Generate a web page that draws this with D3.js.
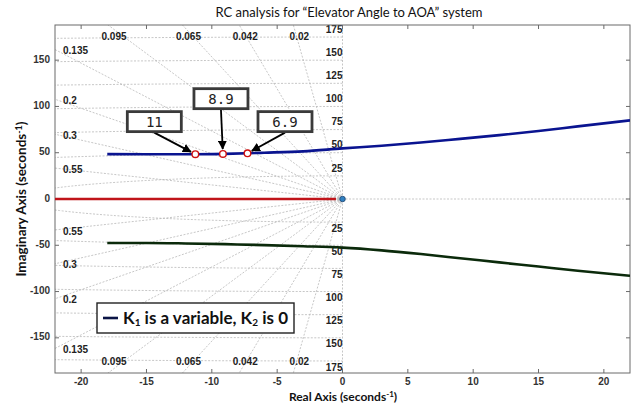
<!DOCTYPE html>
<html>
<head>
<meta charset="utf-8">
<script src="https://cdn.jsdelivr.net/npm/d3@7/dist/d3.min.js"></script>
<style>
  body { margin: 0; background: #fff; }
  svg { display: block; }
</style>
</head>
<body>
<div id="chart"></div>
<script>
// chart values
const xTicks = [-20, -15, -10, -5, 0, 5, 10, 15, 20];
const yTicks = [-150, -100, -50, 0, 50, 100, 150];
const dampingRatios = [0.02, 0.042, 0.065, 0.095, 0.135, 0.2, 0.3, 0.55];
const freqCircles = [25, 50, 75, 100, 125, 150, 175];

const upperX = [-18, -15, -12, -9, -6, -3, 0, 3, 6, 9, 12, 15, 18, 22];
const upperY = [48.5, 48.3, 48.3, 48.8, 50, 51.5, 54.7, 57.5, 61, 65, 69, 73.5, 78.5, 85];
const lowerX = [-18, -15, -12, -9, -6, -3, 0, 3, 6, 9, 12, 15, 18, 22];
const lowerY = [-47.5, -47.5, -48, -48.8, -49.8, -51, -52.5, -55.5, -59.5, -64, -68.5, -73, -77.5, -83];
const realX = [-22, -0.5];
const realY = [0, 0];

const gainX = [-11.26, -9.15, -7.27];
const gainY = [48.4, 48.7, 49.4];
const gainLabels = ["11", "8.9", "6.9"];
const boxX = [-14.4, -9.3, -4.4];
const boxY = [83.6, 108.4, 83.6];

const W = 635, H = 405;
const margin = { top: 25, right: 5, bottom: 32, left: 55 };

var svg = d3.select("#chart").append("svg").attr("width", W).attr("height", H);

var x = d3.scaleLinear().domain([-22, 22]).range([margin.left, W - margin.right]);
var y = d3.scaleLinear().domain([-188, 188]).range([H - margin.bottom, margin.top]);

svg.append("defs").append("clipPath").attr("id", "plotclip")
    .append("rect").attr("x", x(-22)).attr("y", y(188)).attr("width", x(22) - x(-22)).attr("height", y(-188) - y(188));

svg.select("defs").append("marker").attr("id", "arrow")
    .attr("viewBox", "0 0 10 10").attr("refX", 9).attr("refY", 5)
    .attr("markerWidth", 5).attr("markerHeight", 5).attr("markerUnits", "strokeWidth")
    .attr("orient", "auto")
    .append("path").attr("d", "M0,0 L10,5 L0,10 z").attr("fill", "#000");

// title
svg.append("text").attr("x", 349).attr("y", 17).attr("text-anchor", "middle")
    .style("font-family", "Lato, sans-serif").style("font-size", "13px").attr("fill", "#111")
    .text("RC analysis for \u201CElevator Angle to AOA\u201D system");

var grid = svg.append("g").attr("clip-path", "url(#plotclip)");
var gridStyle = function (sel) {
    sel.attr("fill", "none").attr("stroke", "#b4b4b4").attr("stroke-width", 0.75).attr("stroke-dasharray", "2,1.5");
};

// damping ratio lines
dampingRatios.forEach(function (z) {
    var m = Math.sqrt(1 - z * z) / z;
    [1, -1].forEach(function (s) {
        grid.append("line").attr("x1", x(0)).attr("y1", y(0))
            .attr("x2", x(-200 / m)).attr("y2", y(s * 200)).call(gridStyle);
    });
});

// natural frequency arcs
freqCircles.forEach(function (r) {
    var pts = d3.range(0, 181).map(function (i) {
        var t = Math.PI / 2 + i * Math.PI / 180;
        return [r * Math.cos(t), r * Math.sin(t)];
    });
    grid.append("path").attr("d", d3.line().x(d => x(d[0])).y(d => y(d[1]))(pts)).call(gridStyle);
});

grid.append("line").attr("x1", x(-22)).attr("x2", x(22)).attr("y1", y(0)).attr("y2", y(0)).call(gridStyle);
grid.append("line").attr("x1", x(0)).attr("x2", x(0)).attr("y1", y(188)).attr("y2", y(-188)).call(gridStyle);

// grid labels
var glab = svg.append("g").style("font-family", "Liberation Sans, Arial, sans-serif")
    .style("font-size", "10px").style("font-weight", "bold").attr("fill", "#222");

dampingRatios.forEach(function (z) {
    var m = Math.sqrt(1 - z * z) / z;
    var xt = -188 / m;
    [1, -1].forEach(function (s) {
        if (xt > -22) {
            glab.append("text").attr("x", x(xt) + 6).attr("y", s > 0 ? y(188) + 12 : y(-188) - 11)
                .attr("text-anchor", "middle").attr("dominant-baseline", "middle").text(z);
        } else {
            glab.append("text").attr("x", x(-22) + 8).attr("y", y(s * 22 * m) + 2)
                .attr("dominant-baseline", "middle").text(z);
        }
    });
});

freqCircles.forEach(function (r) {
    glab.append("text").attr("x", x(0)).attr("y", y(r) - 7).attr("text-anchor", "end")
        .attr("dominant-baseline", "middle").text(r);
    glab.append("text").attr("x", x(0)).attr("y", y(-r) + 7).attr("text-anchor", "end")
        .attr("dominant-baseline", "middle").text(r);
});

// axes frame and ticks
var frame = svg.append("g");
frame.append("rect").attr("x", x(-22)).attr("y", y(188)).attr("width", x(22) - x(-22)).attr("height", y(-188) - y(188))
    .attr("fill", "none").attr("stroke", "#6a6a6a").attr("stroke-width", 1);

var tickStyle = function (sel) { sel.attr("stroke", "#6a6a6a").attr("stroke-width", 1); };
xTicks.forEach(function (t) {
    frame.append("line").attr("x1", x(t)).attr("x2", x(t)).attr("y1", y(-188)).attr("y2", y(-188) - 4).call(tickStyle);
    frame.append("line").attr("x1", x(t)).attr("x2", x(t)).attr("y1", y(188)).attr("y2", y(188) + 4).call(tickStyle);
});
yTicks.forEach(function (t) {
    frame.append("line").attr("x1", x(-22)).attr("x2", x(-22) + 4).attr("y1", y(t)).attr("y2", y(t)).call(tickStyle);
    frame.append("line").attr("x1", x(22)).attr("x2", x(22) - 4).attr("y1", y(t)).attr("y2", y(t)).call(tickStyle);
});

var tlab = svg.append("g").style("font-family", "Liberation Sans, Arial, sans-serif")
    .style("font-size", "10px").style("font-weight", "bold").attr("fill", "#333");
xTicks.forEach(function (t) {
    tlab.append("text").attr("x", x(t)).attr("y", y(-188) + 12).attr("text-anchor", "middle").text(t);
});
yTicks.forEach(function (t) {
    tlab.append("text").attr("x", x(-22) - 5).attr("y", y(t)).attr("text-anchor", "end")
        .attr("dominant-baseline", "middle").text(t);
});

// axis titles
var xl = svg.append("text").attr("x", 343).attr("y", 401).attr("text-anchor", "middle")
    .style("font-family", "Lato, sans-serif").style("font-size", "12px").style("font-weight", "bold").attr("fill", "#111");
xl.append("tspan").text("Real Axis (seconds");
xl.append("tspan").attr("dy", -4).style("font-size", "8px").text("-1");
xl.append("tspan").attr("dy", 4).text(")");

var yl = svg.append("text").attr("transform", "translate(26," + y(0) + ") rotate(-90)").attr("text-anchor", "middle")
    .style("font-family", "Lato, sans-serif").style("font-size", "13.5px").style("font-weight", "bold").attr("fill", "#111");
yl.append("tspan").text("Imaginary Axis (seconds");
yl.append("tspan").attr("dy", -4).style("font-size", "9px").text("-1");
yl.append("tspan").attr("dy", 4).text(")");

// locus branches
var plot = svg.append("g").attr("clip-path", "url(#plotclip)");
var line = d3.line().curve(d3.curveMonotoneX).x(d => x(d[0])).y(d => y(d[1]));
plot.append("path").attr("d", line(realX.map((v, i) => [v, realY[i]])))
    .attr("fill", "none").attr("stroke", "#c0141a").attr("stroke-width", 2.6);
plot.append("path").attr("d", line(upperX.map((v, i) => [v, upperY[i]])))
    .attr("fill", "none").attr("stroke", "#0a1490").attr("stroke-width", 2.6);
plot.append("path").attr("d", line(lowerX.map((v, i) => [v, lowerY[i]])))
    .attr("fill", "none").attr("stroke", "#0b2a0b").attr("stroke-width", 2.6);

plot.append("circle").attr("cx", x(0)).attr("cy", y(0)).attr("r", 2.8)
    .attr("fill", "#2f7fc0").attr("stroke", "#1a3f6a").attr("stroke-width", 0.8);

// gain markers and callouts
gainX.forEach(function (gx, i) {
    var px = x(gx), py = y(gainY[i]);
    var bx = x(boxX[i]), by = y(boxY[i]);
    var bw = 54, bh = 20;
    var sx = bx, sy = by + bh / 2 + 1;
    var dx = px - sx, dy = py - sy, len = Math.sqrt(dx * dx + dy * dy);
    var ex = px - dx / len * 5, ey = py - dy / len * 5;
    svg.append("line").attr("x1", sx).attr("y1", sy).attr("x2", ex).attr("y2", ey)
        .attr("stroke", "#000").attr("stroke-width", 1.8).attr("marker-end", "url(#arrow)");
    svg.append("rect").attr("x", bx - bw / 2).attr("y", by - bh / 2).attr("width", bw).attr("height", bh)
        .attr("fill", "#fff").attr("stroke", "#3a3a3a").attr("stroke-width", 2.8);
    svg.append("text").attr("x", bx).attr("y", by + 1).attr("text-anchor", "middle").attr("dominant-baseline", "middle")
        .style("font-family", "DejaVu Sans Mono, monospace").style("font-size", "14px").attr("fill", "#222")
        .text(gainLabels[i]);
    svg.append("circle").attr("cx", px).attr("cy", py).attr("r", 3.3)
        .attr("fill", "#fff").attr("stroke", "#d01010").attr("stroke-width", 1.4);
});

// legend
var lg = svg.append("g").attr("transform", "translate(97,303)");
lg.append("rect").attr("width", 197).attr("height", 30).attr("fill", "#fff")
    .attr("stroke", "#222").attr("stroke-width", 1.4);
lg.append("line").attr("x1", 6).attr("x2", 21).attr("y1", 15).attr("y2", 15)
    .attr("stroke", "#0a1445").attr("stroke-width", 2.6);
var lt = lg.append("text").attr("x", 26).attr("y", 21)
    .style("font-family", "Lato, sans-serif").style("font-size", "17px").style("font-weight", "bold").attr("fill", "#111");
lt.append("tspan").text("K");
lt.append("tspan").attr("dy", 2).style("font-size", "10px").text("1");
lt.append("tspan").attr("dy", -2).text(" is a variable, K");
lt.append("tspan").attr("dy", 2).style("font-size", "10px").text("2");
lt.append("tspan").attr("dy", -2).text(" is 0");
</script>
</body>
</html>
